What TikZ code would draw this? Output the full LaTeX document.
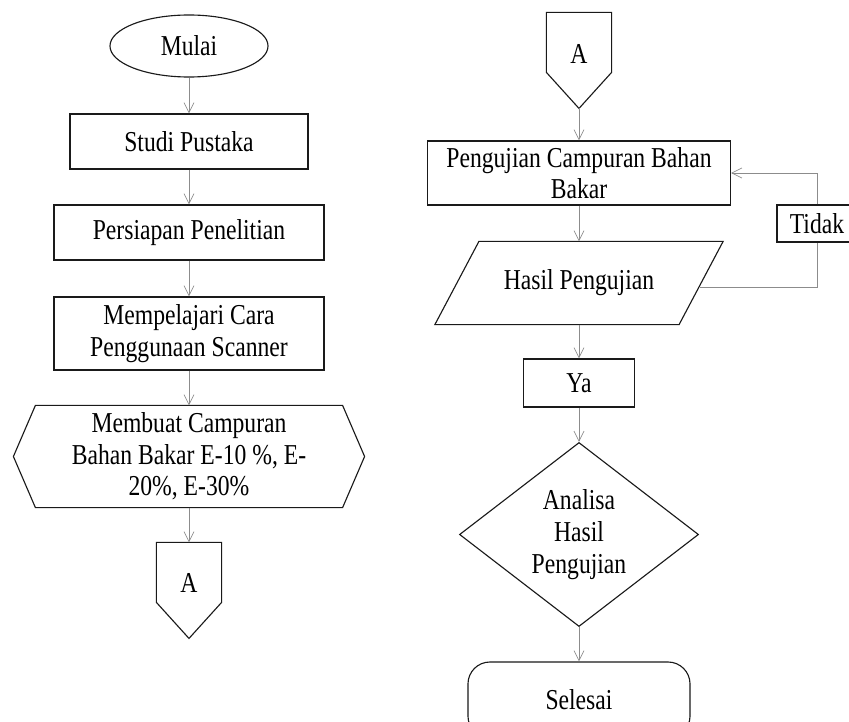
\documentclass[tikz,border=0pt]{standalone}
\usepackage{fontspec}
\setmainfont{Liberation Serif}[FakeStretch=0.82]
\usetikzlibrary{shapes.geometric,arrows.meta,positioning,calc}
\definecolor{FlowInk}{HTML}{1A1A1A}
\definecolor{FlowLine}{HTML}{8C8C8C}
\tikzset{
    % Base node style
    flownode/.style={
        draw=FlowInk,
        line width=0.8pt,
        align=center,
        inner sep=0pt,
        font=\fontsize{20.5}{22.5}\selectfont
    },
    % Process box
    processbox/.style={
        flownode,
        rectangle
    },
    % Start terminator
    startnode/.style={
        flownode,
        ellipse
    },
    % End terminator
    endnode/.style={
        flownode,
        rectangle,
        rounded corners=0.55cm
    },
    % Decision
    decisionnode/.style={
        flownode,
        diamond
    },
    % Node whose outline is drawn by hand
    freenode/.style={
        flownode,
        draw=none
    },
    % Hand drawn outline
    outline/.style={
        draw=FlowInk,
        line width=0.8pt,
        line join=miter
    },
    % Label box on the loop
    loopbox/.style={
        flownode,
        fill=white
    },
    % Arrow styles
    flowarrow/.style={
        -{Straight Barb[length=0.25cm,width=0.25cm]},
        line width=0.5pt,
        draw=FlowLine
    },
    flowline/.style={
        line width=0.5pt,
        draw=FlowLine
    }
}
\begin{document}
\begin{tikzpicture}[x=0.025cm, y=-0.025cm]
    \path[fill=white, use as bounding box] (0,0) rectangle (849,722);

    % left column
    \node[startnode, minimum width=3.95cm, minimum height=1.55cm] (mulai) at (189,46) {Mulai};
    \node[processbox, minimum width=5.95cm, minimum height=1.375cm] (studi) at (189,141.5) {Studi Pustaka};
    \node[processbox, minimum width=6.75cm, minimum height=1.375cm] (persiapan) at (189,232.5) {Persiapan Penelitian};
    \node[processbox, minimum width=6.75cm, minimum height=1.825cm] (pelajari) at (189,333.5) {Mempelajari Cara\\Penggunaan Scanner};
    \node[freenode, minimum width=8.75cm, minimum height=2.525cm] (campuran) at (189,456.5) {Membuat Campuran\\Bahan Bakar E-10 \%, E-\\20\%, E-30\%};
    \draw[outline] (campuran.west) -- ($(campuran.north west)+(22,0)$) -- ($(campuran.north east)+(-22,0)$)
        -- (campuran.east) -- ($(campuran.south east)+(-22,0)$) -- ($(campuran.south west)+(22,0)$) -- cycle;
    \node[freenode, minimum width=1.6cm, minimum height=2cm] (konektorA) at (189,583) {A};
    \draw[outline] (konektorA.north west) -- (konektorA.north east) -- ++(0,60)
        -- ($(konektorA.north)+(0,96)$) -- ($(konektorA.north west)+(0,60)$) -- cycle;

    \draw[flowarrow] (mulai) -- (studi);
    \draw[flowarrow] (studi) -- (persiapan);
    \draw[flowarrow] (persiapan) -- (pelajari);
    \draw[flowarrow] (pelajari) -- (campuran);
    \draw[flowarrow] (campuran) -- (konektorA);

    % right column
    \node[freenode, minimum width=1.6cm, minimum height=2.05cm] (lanjutA) at (579,54) {A};
    \draw[outline] (lanjutA.north west) -- (lanjutA.north east) -- ++(0,60)
        -- ($(lanjutA.north)+(0,96)$) -- ($(lanjutA.north west)+(0,60)$) -- cycle;
    \coordinate (lanjutA tip) at ($(lanjutA.north)+(0,96)$);
    \node[processbox, minimum width=7.575cm, minimum height=1.6cm] (uji) at (579,173) {Pengujian Campuran Bahan\\Bakar};
    \node[freenode, minimum width=7.175cm, minimum height=2.05cm] (hasil) at (579,283) {Hasil Pengujian};
    \draw[outline] ($(hasil.north west)+(44,0)$) -- (hasil.north east)
        -- ($(hasil.south east)+(-44,0)$) -- (hasil.south west) -- cycle;
    \coordinate (hasil kanan) at (700,287);
    \node[loopbox, minimum width=2cm, minimum height=0.925cm] (tidak) at (817,223.5) {Tidak};
    \node[processbox, minimum width=2.775cm, minimum height=1.2cm] (ya) at (579,383) {Ya};
    \node[decisionnode, minimum width=5.975cm, minimum height=4.575cm] (analisa) at (579,534.5) {Analisa\\Hasil\\Pengujian};
    \node[endnode, minimum width=5.55cm, minimum height=1.9cm] (selesai) at (579,700) {Selesai};

    \draw[flowarrow] (lanjutA tip) -- (uji);
    \draw[flowarrow] (uji) -- (hasil);
    \draw[flowarrow] (hasil) -- (ya);
    \draw[flowarrow] (ya) -- (analisa);
    \draw[flowarrow] (analisa) -- (selesai);

    % loop back
    \draw[flowline] (hasil kanan) -| (tidak.south);
    \draw[flowarrow] (tidak.north) |- (uji.east);
\end{tikzpicture}
\end{document}
